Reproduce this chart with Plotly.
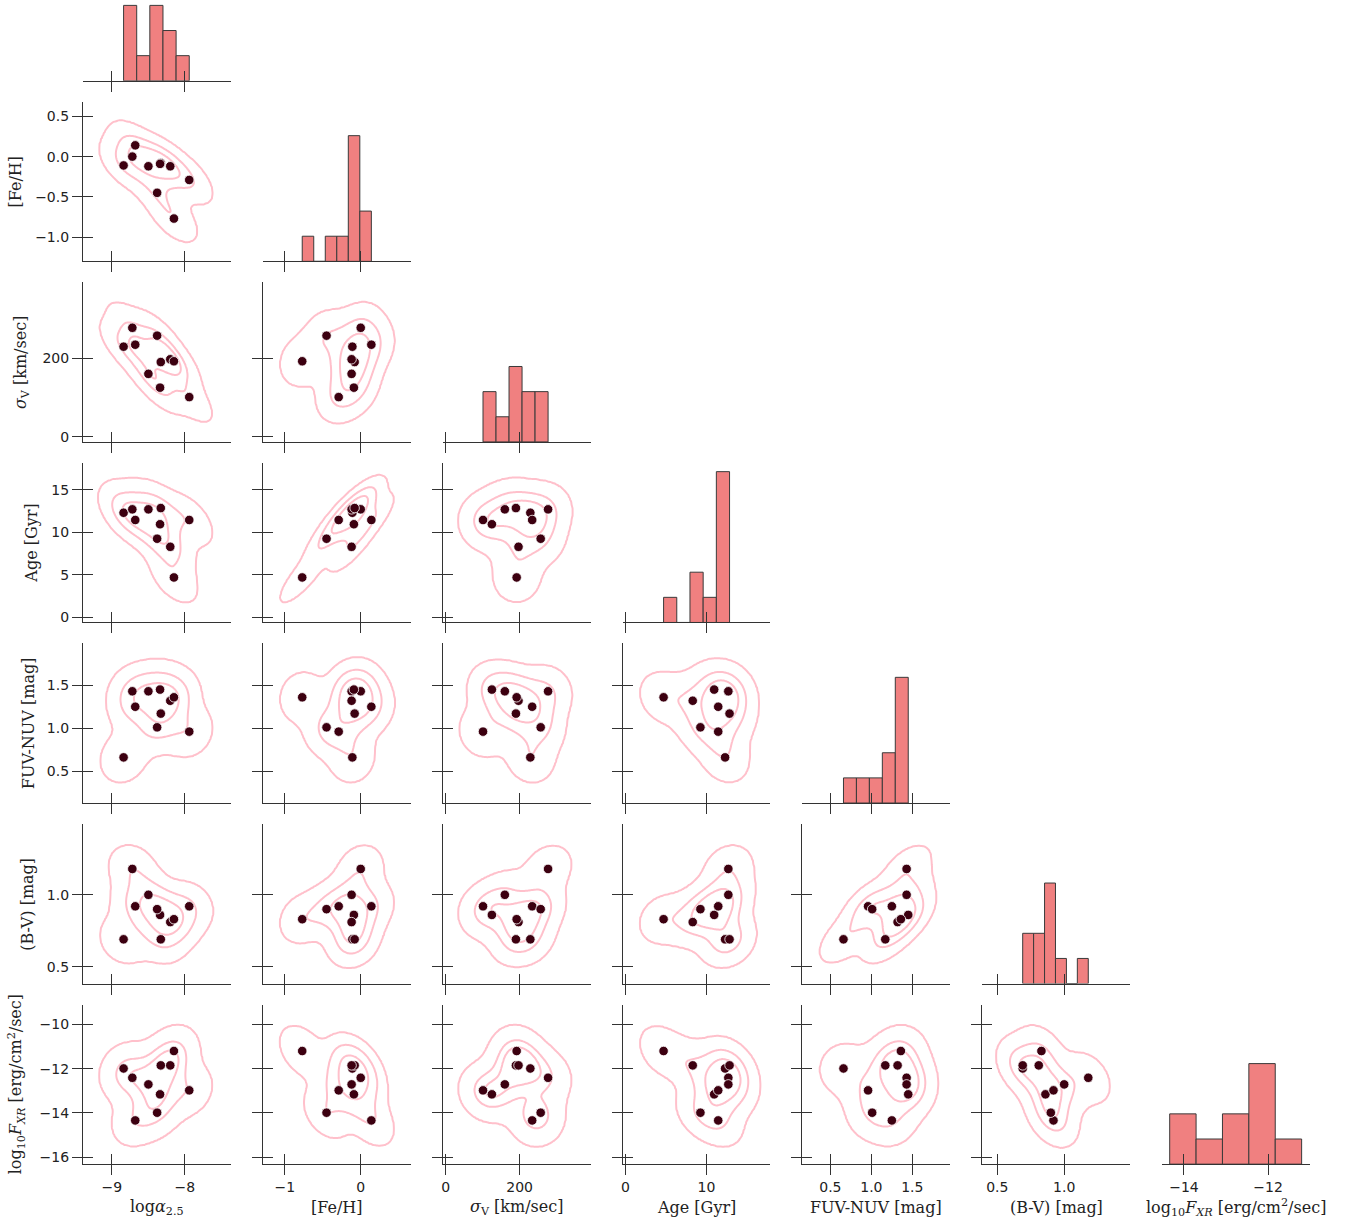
import numpy as np
import plotly.graph_objects as go

# ---------------- data (10 galaxies) ----------------
LOG_ALPHA = [-8.84, -8.72, -8.68, -8.50, -8.33, -8.34, -8.20, -7.94, -8.38, -8.15]
FEH = [-0.11, 0.00, 0.14, -0.12, -0.08, -0.09, -0.12, -0.29, -0.45, -0.77]
SIGMA_V = [229, 277, 234, 160, 190, 125, 197, 101, 257, 192]
AGE = [12.3, 12.7, 11.45, 12.7, 12.85, 10.95, 8.3, 11.45, 9.25, 4.7]
FUV_NUV = [0.66, 1.43, 1.25, 1.43, 1.17, 1.45, 1.32, 0.96, 1.01, 1.36]
B_V = [0.69, 1.18, 0.92, 1.00, 0.69, 0.86, 0.81, 0.92, 0.90, 0.83]
LOG_FXR = [-11.99, -12.41, -14.34, -12.71, -11.85, -13.16, -11.85, -12.98, -13.99, -11.20]

VARS = [LOG_ALPHA, FEH, SIGMA_V, AGE, FUV_NUV, B_V, LOG_FXR]
LABELS = [
    "log<i>α</i><sub>2.5</sub>",
    "[Fe/H]",
    "<i>σ</i><sub>V</sub> [km/sec]",
    "Age [Gyr]",
    "FUV-NUV [mag]",
    "(B-V) [mag]",
    "log<sub>10</sub><i>F</i><sub><i>XR</i></sub> [erg/cm<sup>2</sup>/sec]",
]
NBINS = [5, 6, 5, 5, 5, 6, 5]

# tick values
XTICKS = [[-9, -8], [-1, 0], [0, 200], [0, 10], [0.5, 1.0, 1.5], [0.5, 1.0], [-14, -12]]
YTICKS = [None, [0.5, 0.0, -0.5, -1.0], [0, 200], [0, 5, 10, 15], [0.5, 1.0, 1.5], [0.5, 1.0], [-10, -12, -14, -16]]
XFMT = [None, None, None, None, ".1f", ".1f", None]
YFMT = [None, ".1f", None, None, ".1f", ".1f", None]

# axis ranges
XRANGE = [[-9.397, -7.370], [-1.289, 0.658], [-8.1, 391.9], [-0.37, 17.9],
          [0.159, 1.963], [0.388, 1.493], [-14.52, -11.0]]
YRANGE = [None, [-1.302, 0.682], [-12.7, 392.4], [-0.586, 18.16],
          [0.128, 1.988], [0.382, 1.493], [-16.316, -9.098]]

# ---------------- styling / layout constants ----------------
W, H = 1349, 1225
COL_LEFT0, COL_W, COL_STEP = 82, 148, 180
ROW_BOT0, ROW_H, ROW_STEP = 81, 160, 181
PX_PER_COUNT = 25.2
AX_COLOR = "#333333"
TICK_FONT = dict(family="DejaVu Sans", size=14, color="#222222")
TITLE_FONT = dict(family="DejaVu Serif", size=16, color="#222222")
PINK = "#FFC0CB"
DOT = "#3c0010"
BAR = "#F08080"

def xdom(c):
    x0 = COL_LEFT0 + COL_STEP * c
    return [x0 / W, (x0 + COL_W) / W]

def ydom(r):
    bot = ROW_BOT0 + ROW_STEP * r
    top = max(bot - ROW_H, 0)
    return [1 - bot / H, 1 - top / H], bot - top


def kde_field(x, y, gridsize=110, cut=3):
    data = np.vstack([x, y]).astype(float)
    n = data.shape[1]
    factor = n ** (-1.0 / 6.0)
    cov = np.cov(data) * factor ** 2
    inv = np.linalg.inv(cov)
    norm = 1.0 / (2 * np.pi * np.sqrt(np.linalg.det(cov)) * n)
    bw = np.sqrt(np.diag(cov))
    gx = np.linspace(data[0].min() - cut * bw[0], data[0].max() + cut * bw[0], gridsize)
    gy = np.linspace(data[1].min() - cut * bw[1], data[1].max() + cut * bw[1], gridsize)
    X, Y = np.meshgrid(gx, gy)
    pts = np.stack([X.ravel(), Y.ravel()])
    z = np.zeros(pts.shape[1])
    for k in range(n):
        d = pts - data[:, k:k + 1]
        z += np.exp(-0.5 * np.sum(d * (inv @ d), axis=0))
    z = (z * norm).reshape(X.shape)
    # seaborn-like iso-proportion levels
    iso = np.array([0.05, 0.05 + (1 - 0.05) / 3, 0.05 + 2 * (1 - 0.05) / 3])
    vals = np.sort(z.ravel())[::-1]
    cum = np.cumsum(vals) / vals.sum()
    idx = np.searchsorted(cum, 1 - iso)
    levels = np.take(vals, idx, mode="clip")
    levels = np.sort(levels)
    zmax = z.max()
    z2 = np.interp(z, [0, levels[0], levels[1], levels[2], zmax * 1.0001], [0, 1, 2, 3, 4])
    return gx, gy, np.round(z2, 3)


fig = go.Figure()
layout = dict(width=W, height=H, margin=dict(l=0, r=0, t=0, b=0),
              paper_bgcolor="white", plot_bgcolor="white", showlegend=False)

k = 0
for r in range(7):
    for c in range(r + 1):
        k += 1
        xa = "x" if k == 1 else f"x{k}"
        ya = "y" if k == 1 else f"y{k}"
        xkey = "xaxis" if k == 1 else f"xaxis{k}"
        ykey = "yaxis" if k == 1 else f"yaxis{k}"
        ydomain, hpx = ydom(r)

        xaxis = dict(domain=xdom(c), anchor=ya, range=XRANGE[c], showgrid=False, zeroline=False,
                     showline=True, linecolor=AX_COLOR, linewidth=1,
                     ticks="outside", ticklen=10, tickwidth=1, tickcolor=AX_COLOR,
                     tickmode="array", tickvals=XTICKS[c], showticklabels=(r == 6),
                     tickfont=TICK_FONT, fixedrange=True,
                     minor=dict(tickmode="array", tickvals=XTICKS[c], ticks="inside",
                                ticklen=10, tickwidth=1, tickcolor=AX_COLOR))
        if XFMT[c]:
            xaxis["tickformat"] = XFMT[c]

        if c == r:
            # diagonal histogram
            vals = np.array(VARS[c], dtype=float)
            counts, edges = np.histogram(vals, bins=NBINS[c])
            centers = (edges[:-1] + edges[1:]) / 2
            widths = np.diff(edges)
            fig.add_trace(go.Bar(x=centers, y=counts, width=widths, xaxis=xa, yaxis=ya,
                                 marker=dict(color=BAR, line=dict(color="#3a3a3a", width=1)),
                                 hoverinfo="skip"))
            yaxis = dict(domain=ydomain, anchor=xa, range=[0, hpx / PX_PER_COUNT],
                         visible=False, fixedrange=True)
        else:
            gx, gy, zf = kde_field(VARS[c], VARS[r])
            fig.add_trace(go.Contour(x=gx, y=gy, z=zf, xaxis=xa, yaxis=ya,
                                     autocontour=False,
                                     contours=dict(start=1, end=3, size=1, coloring="lines"),
                                     colorscale=[[0, PINK], [1, PINK]], showscale=False,
                                     line=dict(width=2, smoothing=1), hoverinfo="skip"))
            fig.add_trace(go.Scatter(x=VARS[c], y=VARS[r], mode="markers", xaxis=xa, yaxis=ya,
                                     marker=dict(size=9.5, color=DOT, line=dict(color="white", width=0.8)),
                                     hoverinfo="skip"))
            yaxis = dict(domain=ydomain, anchor=xa, range=YRANGE[r], showgrid=False, zeroline=False,
                         showline=True, linecolor=AX_COLOR, linewidth=1,
                         ticks="outside", ticklen=10, tickwidth=1, tickcolor=AX_COLOR,
                         tickmode="array", tickvals=YTICKS[r], showticklabels=(c == 0),
                         tickfont=TICK_FONT, fixedrange=True,
                         minor=dict(tickmode="array", tickvals=YTICKS[r], ticks="inside",
                                    ticklen=10, tickwidth=1, tickcolor=AX_COLOR))
            if YFMT[r]:
                yaxis["tickformat"] = YFMT[r]
        layout[xkey] = xaxis
        layout[ykey] = yaxis

# axis titles as annotations
annotations = []
XLAB_Y = 1210
for c in range(7):
    d = xdom(c)
    annotations.append(dict(text=LABELS[c], x=(d[0] + d[1]) / 2, y=1 - XLAB_Y / H,
                            xref="paper", yref="paper", xanchor="center", yanchor="middle",
                            showarrow=False, font=TITLE_FONT))
YLAB_X = [None, 15, 20, 31, 27, 27, 15]
for r in range(1, 7):
    d, _ = ydom(r)
    annotations.append(dict(text=LABELS[r], x=YLAB_X[r] / W, y=(d[0] + d[1]) / 2,
                            xref="paper", yref="paper", xanchor="center", yanchor="middle",
                            textangle=-90, showarrow=False, font=TITLE_FONT))
layout["annotations"] = annotations

fig.update_layout(**layout)
fig.write_html("out.html", config={"displayModeBar": False},
               post_script="document.body.style.margin='0';document.body.style.overflow='hidden';")
